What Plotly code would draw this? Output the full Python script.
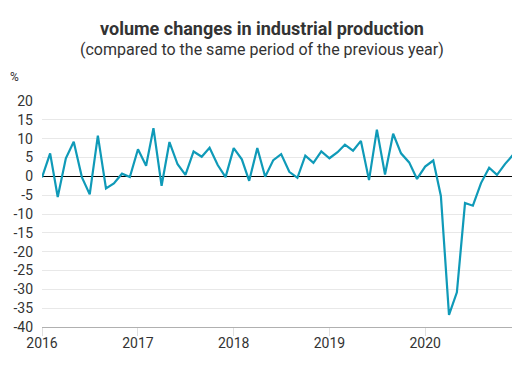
import plotly.graph_objects as go
import pandas as pd

months = pd.date_range("2016-01-01", "2020-12-01", freq="MS")
values = [
    -0.3, 6.1, -5.5, 4.8, 9.2, -0.2, -4.8, 10.8, -3.2, -1.9, 0.7, -0.2,
    7.2, 2.8, 12.8, -2.5, 9.1, 3.2, 0.4, 6.6, 5.2, 7.6, 3.0, -0.2,
    7.5, 4.5, -1.2, 7.5, -0.1, 4.3, 5.9, 1.2, -0.4, 5.5, 3.6, 6.6,
    4.8, 6.4, 8.4, 6.8, 9.4, -1.0, 12.4, 0.5, 11.3, 6.1, 3.7, -0.7,
    2.6, 4.2, -5.2, -36.8, -30.8, -7.1, -7.8, -1.8, 2.3, 0.4, 3.3, 5.7,
]
y_ticks = [20, 15, 10, 5, 0, -5, -10, -15, -20, -25, -30, -35, -40]
y_labels = [str(v) for v in y_ticks]
x_ticks = ["2016-01-01", "2017-01-01", "2018-01-01", "2019-01-01", "2020-01-01"]
x_labels = ["2016", "2017", "2018", "2019", "2020"]

title = "volume changes in industrial production"
subtitle = "(compared to the same period of the previous year)"

# page has an 8px body margin; figure is sized to fit inside the 520x372 window
OFF = 8
W, H = 520 - OFF, 372 - OFF
L, T = 42 - OFF, 101 - OFF
R = 520 - 513
B = 372 - 327

fig = go.Figure()
fig.add_trace(go.Scatter(
    x=months, y=values, mode="lines",
    line=dict(color="#0f9ab8", width=2.2),
    hoverinfo="x+y",
))

pw = W - L - R
ph = H - T - B


def to_paper(px, py):
    fx = px - OFF
    fy = py - OFF
    return (fx - L) / pw, (H - fy - B) / ph


ann = []
for text, px, py, size in [
    ("<b>" + title + "</b>", 262, 28, 18),
    (subtitle, 262, 50, 16),
    ("%", 14, 77, 12),
]:
    ax, ay = to_paper(px, py)
    ann.append(dict(text=text, x=ax, y=ay, xref="paper", yref="paper",
                    xanchor="center", yanchor="middle", showarrow=False,
                    font=dict(size=size, color="#333333")))

fig.update_layout(
    width=W, height=H,
    margin=dict(l=L, r=R, t=T, b=B, pad=0),
    paper_bgcolor="white", plot_bgcolor="white",
    font=dict(family="Roboto", color="#333333", size=14),
    showlegend=False,
    xaxis=dict(
        range=["2016-01-01", "2020-12-01"],
        tickvals=x_ticks, ticktext=x_labels,
        showgrid=False, showline=True, linecolor="#b0b0b0", linewidth=1,
        ticks="outside", ticklen=8, tickcolor="#e0e0e0", tickwidth=1,
        ticklabelstandoff=-5,
        tickfont=dict(size=14, color="#333333"),
        zeroline=False, automargin=False,
    ),
    yaxis=dict(
        range=[-40, 20],
        tickvals=y_ticks, ticktext=y_labels,
        showgrid=True, gridcolor="#e8e8e8", gridwidth=1,
        zeroline=True, zerolinecolor="#000000", zerolinewidth=1,
        showline=False, ticks="", ticklabelstandoff=8,
        tickfont=dict(size=14, color="#333333"), automargin=False,
    ),
    annotations=ann,
)

fig.write_html("out.html")
